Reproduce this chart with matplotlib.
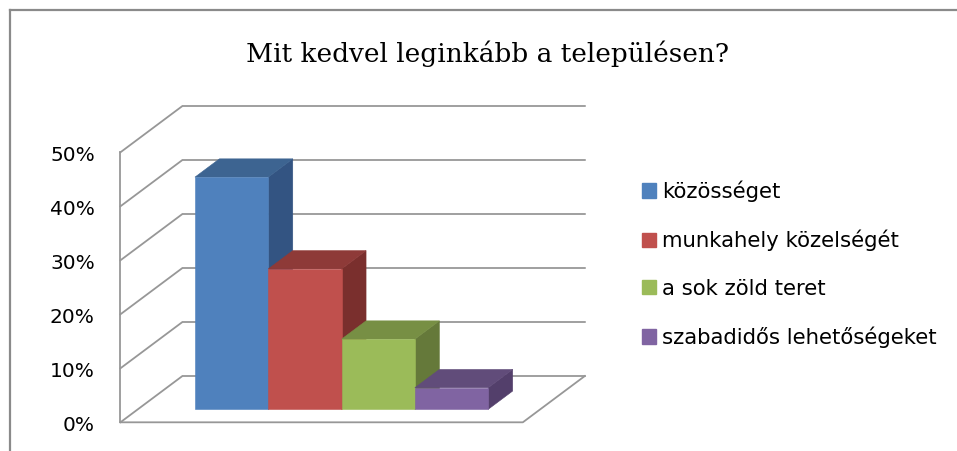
import matplotlib
matplotlib.use("Agg")
import matplotlib.pyplot as plt
from matplotlib.patches import Polygon, Patch
from matplotlib.lines import Line2D

# ---- data ----
title = "Mit kedvel leginkább a településen?"
categories = ["közösséget", "munkahely közelségét", "a sok zöld teret", "szabadidős lehetőségeket"]
values = [43, 26, 13, 4]  # percent
ticks = [0, 10, 20, 30, 40, 50]
tick_labels = ["0%", "10%", "20%", "30%", "40%", "50%"]

front_colors = ["#4F81BD", "#C0504D", "#9BBB59", "#8064A2"]
top_colors = ["#3D6491", "#8E3A38", "#778F44", "#614C7A"]
side_colors = ["#335482", "#7A2F2D", "#65793A", "#533F6B"]

# ---- layout (pixels) ----
W, H = 957, 451
PX_PER_U = 73.3
U0_PX = 177.6
PX_PER_PCT = 5.4
V0_PX = 422.3
DX = 62 / PX_PER_U        # depth offset in u per full depth
DY = 46.3 / PX_PER_PCT    # depth offset in % per full depth
U_LEFT, U_RIGHT = -0.78, 4.71
D_FRONT, D_BACK = 0.28, 0.675
GRID = "#979797"

fig = plt.figure(figsize=(W / 100, H / 100), dpi=100)
ax = fig.add_axes([0, 0, 1, 1])
ax.set_xlim((0 - U0_PX) / PX_PER_U, (W - U0_PX) / PX_PER_U)
ax.set_ylim((V0_PX - H) / PX_PER_PCT, V0_PX / PX_PER_PCT)
ax.axis("off")


def P(u, v, d):
    return (u + DX * d, v + DY * d)


# walls / gridlines
for t in ticks:
    a = P(U_LEFT, t, 0)
    b = P(U_LEFT, t, 1)
    c = P(U_RIGHT, t, 1)
    ax.plot([a[0], b[0], c[0]], [a[1], b[1], c[1]], color=GRID, lw=1.3,
            solid_joinstyle="miter", zorder=1)
# front left vertical edge
ax.plot([U_LEFT, U_LEFT], [0, ticks[-1]], color=GRID, lw=1.3, zorder=1)
# floor front and right edges
p1, p2, p3 = P(U_LEFT, 0, 0), P(U_RIGHT, 0, 0), P(U_RIGHT, 0, 1)
ax.plot([p1[0], p2[0], p3[0]], [p1[1], p2[1], p3[1]], color=GRID, lw=1.3, zorder=1)

# bars
for i, val in enumerate(values):
    l, r = i, i + 1
    side = [P(r, 0, D_FRONT), P(r, 0, D_BACK), P(r, val, D_BACK), P(r, val, D_FRONT)]
    top = [P(l, val, D_FRONT), P(r, val, D_FRONT), P(r, val, D_BACK), P(l, val, D_BACK)]
    front = [P(l, 0, D_FRONT), P(r, 0, D_FRONT), P(r, val, D_FRONT), P(l, val, D_FRONT)]
    z = 2 + i
    ax.add_patch(Polygon(side, closed=True, fc=side_colors[i], ec=side_colors[i], lw=0.4, zorder=z))
    ax.add_patch(Polygon(top, closed=True, fc=top_colors[i], ec=top_colors[i], lw=0.4, zorder=z))
    ax.add_patch(Polygon(front, closed=True, fc=front_colors[i], ec=front_colors[i], lw=0.4, zorder=z))

# y tick labels
for t, lab in zip(ticks, tick_labels):
    ax.text(U_LEFT - 0.35, t - 0.6, lab, ha="right", va="center",
            fontsize=14.5, family="DejaVu Sans", color="#000000")

# title
fig.text(487.5 / W, 1 - 62 / H, title, ha="center", va="baseline",
         fontsize=19, family="DejaVu Serif", color="#000000")

# legend
handles = [Patch(facecolor=c, edgecolor=c) for c in front_colors]
fig.legend(handles, categories, loc="upper left",
           bbox_to_anchor=(642 / W, 1 - 180.5 / H), frameon=False,
           prop={"family": "DejaVu Sans", "size": 15.3},
           handlelength=0.66, handleheight=0.66, handletextpad=0.3,
           labelspacing=1.3, borderpad=0, borderaxespad=0)

# outer border (left and top)
fig.add_artist(Line2D([9.5 / W, 9.5 / W], [0, 1 - 9.5 / H], color="#8a8a8a", lw=1.6,
                      transform=fig.transFigure))
fig.add_artist(Line2D([9.5 / W, 1], [1 - 9.5 / H, 1 - 9.5 / H], color="#8a8a8a", lw=1.6,
                      transform=fig.transFigure))

fig.savefig("out.png", dpi=100)
